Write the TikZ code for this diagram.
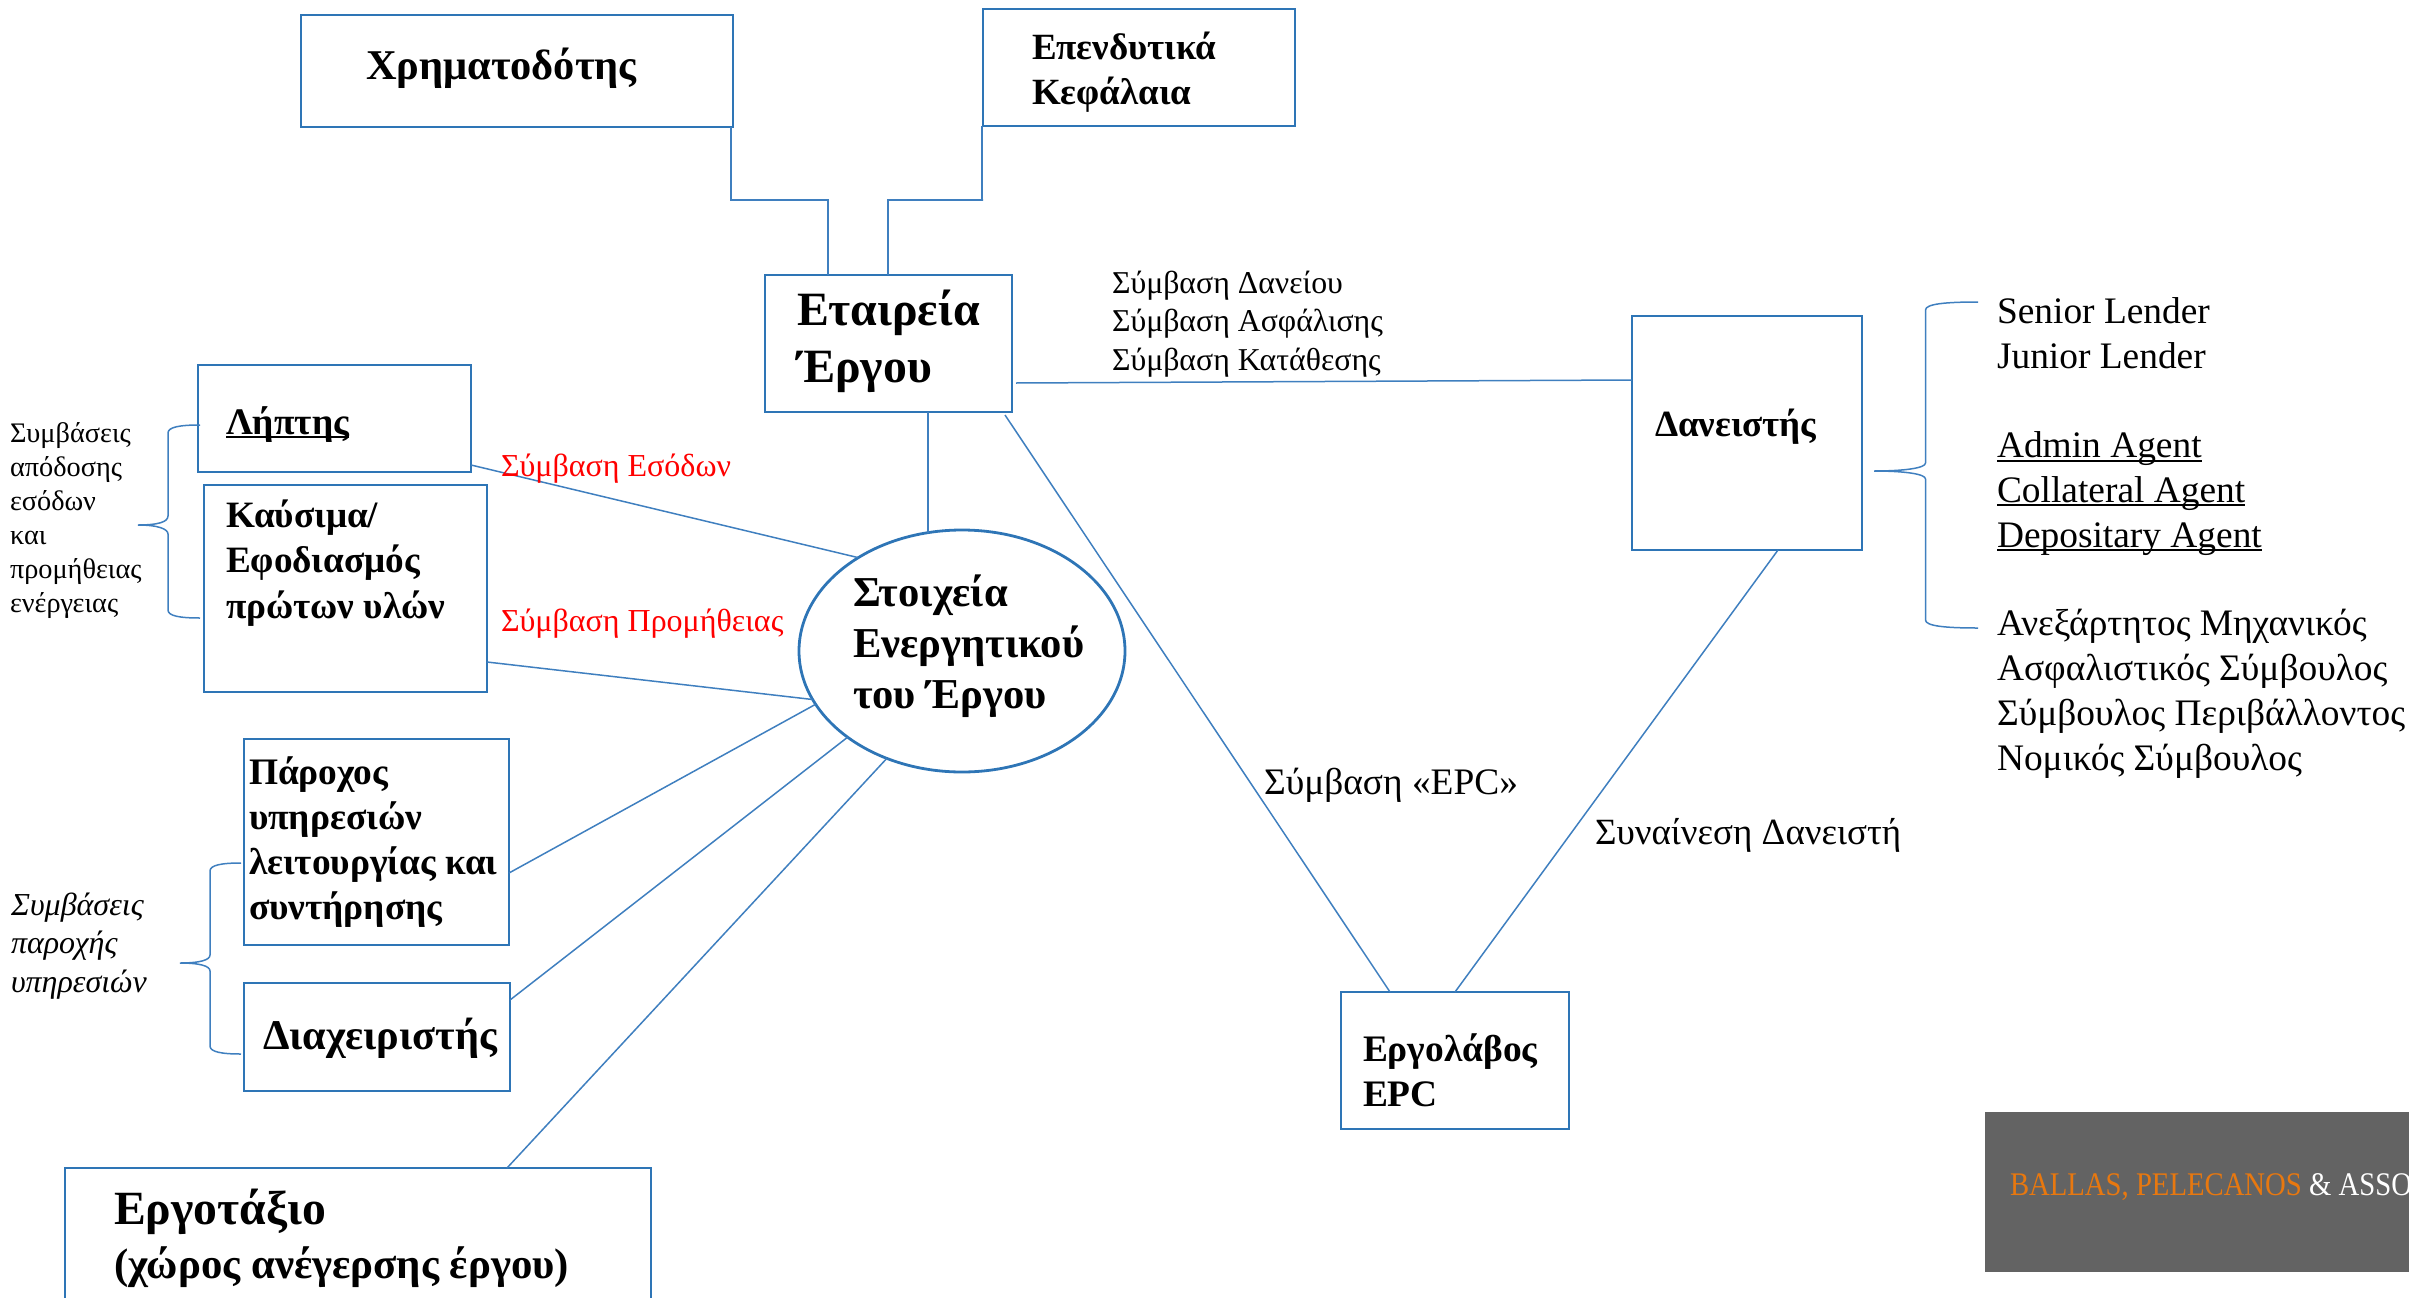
\documentclass[tikz,border=0pt]{standalone}
\usepackage{fontspec}
\setmainfont{Liberation Serif}
\newfontfamily\logofont[FakeStretch=0.87]{Liberation Serif}
\usetikzlibrary{calc,shapes.geometric}
\definecolor{boxblue}{HTML}{2E75B6}
\definecolor{linkblue}{HTML}{3F7FBF}
\definecolor{logoorange}{HTML}{E8780F}
\newcommand{\fsz}[2]{\fontsize{#1}{#2}\selectfont}
\newcommand{\ulx}[1]{\setbox0\hbox{#1}\rlap{\rule[-0.11em]{\wd0}{0.05em}}\box0}
\tikzset{
  boxnode/.style={draw=boxblue,line width=2.8pt,rectangle,inner sep=0pt,outer sep=0pt,fill=white},
  assetnode/.style={draw=boxblue,line width=2.8pt,ellipse,inner sep=0pt,outer sep=0pt},
  link/.style={draw=linkblue,line width=1.5pt},
  brace/.style={draw=linkblue,line width=1.5pt},
  lbl/.style={inner sep=0pt,outer sep=0pt,align=left,anchor=base west,text=black},
  redlbl/.style={lbl,text=red},
}
\begin{document}
\begin{tikzpicture}[x=1pt,y=-1pt]
\useasboundingbox (0,0) rectangle (2409,1298);
\begin{scope}
\clip (0,0) rectangle (2409,1298);
\node[boxnode,minimum width=432pt,minimum height=112pt] (fin) at (517,71) {};
\node[boxnode,minimum width=312pt,minimum height=117pt] (inv) at (1139,67.5) {};
\node[boxnode,minimum width=247pt,minimum height=137pt] (eta) at (888.5,343.5) {};
\node[boxnode,minimum width=273pt,minimum height=107pt] (lip) at (334.5,418.5) {};
\node[boxnode,minimum width=283pt,minimum height=207pt] (fuel) at (345.5,588.5) {};
\node[boxnode,minimum width=265pt,minimum height=206pt] (om) at (376.5,842) {};
\node[boxnode,minimum width=266pt,minimum height=108pt] (man) at (377,1037) {};
\node[boxnode,minimum width=586pt,minimum height=150pt] (site) at (358,1243) {};
\node[boxnode,minimum width=230pt,minimum height=234pt] (dan) at (1747,433) {};
\node[boxnode,minimum width=228pt,minimum height=137pt] (epc) at (1455,1060.5) {};
\node[assetnode,minimum width=326pt,minimum height=242pt] (asset) at (962,651) {};

\draw[link] ([xshift=-2pt]fin.south east) |- ($(fin.south east)+(0,73)$) -| ([xshift=-60.5pt]eta.north);
\draw[link] ([xshift=-157pt]inv.south) |- ($(inv.south west)+(0,74)$) -| ([xshift=-0.5pt]eta.north);
\draw[link] (eta.south -| asset.106.6) -- (asset.106.6);
\draw[link] ([xshift=4pt,yshift=-39.5pt]eta.east) -- ([yshift=53pt]dan.west);
\draw[link] ([xshift=-7pt,yshift=-3pt]eta.south east) -- ([xshift=-65pt]epc.north);
\draw[link] ([xshift=31pt]dan.south) -- (epc.north);
\draw[link] ([yshift=-46.5pt]lip.east) -- (asset.138.5);
\draw[link] ([yshift=-73.5pt]fuel.east) -- (asset.198.7);
\draw[link] ([yshift=-31pt]om.east) -- (asset.200.4);
\draw[link] ([yshift=37pt]man.east) -- (asset.217);
\draw[link] ([xshift=149pt]site.north) -- (asset.235.8);

% braces
\draw[brace] (200,425) .. controls (180,425) and (168,427) .. (168,433) -- (168,516) .. controls (168,522) and (158,525) .. (138,525) .. controls (158,525) and (168,529) .. (168,534) -- (168,610) .. controls (168,616) and (180,618) .. (200,618);
\draw[brace] (241,863) .. controls (222,863) and (210,865) .. (210,871) -- (210,955) .. controls (210,960) and (200,963) .. (180,963) .. controls (200,963) and (210,966) .. (210,971) -- (210,1046) .. controls (210,1052) and (222,1054) .. (241,1054);
\draw[brace] (1978,302) .. controls (1945,302) and (1925.5,304) .. (1925.5,310) -- (1925.5,463) .. controls (1925.5,468) and (1905,471) .. (1874,471) .. controls (1905,471) and (1925.5,474) .. (1925.5,479) -- (1925.5,620) .. controls (1925.5,626) and (1945,628) .. (1978,628);

% texts
\node[lbl,font=\bfseries\fsz{42.4}{50}] (tfin) at (366,79) {Χρηματοδότης};
\node[lbl,font=\bfseries\fsz{37}{45}] (tinv) at (1032,104) {Επενδυτικά\\Κεφάλαια};
\node[lbl,font=\bfseries\fsz{47.8}{57}] (teta) at (797,382) {Εταιρεία\\Έργου};
\node[lbl,font=\bfseries\fsz{37.5}{45}] (tlip) at (226,434) {\ulx{Λήπτης}};
\node[lbl,font=\bfseries\fsz{37.2}{45.5}] (tfuel) at (226,618) {Καύσιμα/\\Εφοδιασμός\\πρώτων υλών};
\node[lbl,font=\bfseries\fsz{42.6}{51}] (tasset) at (853,708) {Στοιχεία\\Ενεργητικού\\του Έργου};
\node[lbl,font=\bfseries\fsz{37.4}{45}] (tom) at (249,919) {Πάροχος\\υπηρεσιών\\λειτουργίας και\\συντήρησης};
\node[lbl,font=\bfseries\fsz{42.3}{50}] (tman) at (263,1049) {Διαχειριστής};
\node[lbl,font=\bfseries\fsz{47.7}{55}] (tsite) at (114,1224) {Εργοτάξιο};
\node[lbl,font=\bfseries\fsz{42.8}{50}] (tsite2) at (114,1278) {(χώρος ανέγερσης έργου)};
\node[lbl,font=\bfseries\fsz{37}{45}] (tdan) at (1655,436) {Δανειστής};
\node[lbl,font=\bfseries\fsz{37.4}{45}] (tepc) at (1363,1106) {Εργολάβος\\EPC};
\node[lbl,font=\fsz{28.3}{34}] (tleft) at (10,612) {Συμβάσεις\\απόδοσης\\εσόδων\\και\\προμήθειας\\ενέργειας};
\node[lbl,font=\itshape\fsz{32}{38.5}] (tleft2) at (11,992) {Συμβάσεις\\παροχής\\υπηρεσιών};
\node[redlbl,font=\fsz{32}{38}] (tred1) at (501,476) {Σύμβαση Εσόδων};
\node[redlbl,font=\fsz{32}{38}] (tred2) at (501,631) {Σύμβαση Προμήθειας};
\node[lbl,font=\fsz{31.8}{38.5}] (tcon) at (1112,370) {Σύμβαση Δανείου\\Σύμβαση Ασφάλισης\\Σύμβαση Κατάθεσης};
\node[lbl,font=\fsz{37.4}{45}] (tepcc) at (1264,794) {Σύμβαση «EPC»};
\node[lbl,font=\fsz{37}{45}] (tcons) at (1595,844) {Συναίνεση Δανειστή};
\node[lbl,font=\fsz{37.4}{44.8}] (tr1) at (1997,368) {Senior Lender\\Junior Lender};
\node[lbl,font=\fsz{37.4}{44.8}] (tr2) at (1997,547) {\ulx{Admin Agent}\\\ulx{Collateral Agent}\\\ulx{Depositary Agent}};
\node[lbl,font=\fsz{37.4}{44.8}] (tr3) at (1997,770) {Ανεξάρτητος Μηχανικός\\Ασφαλιστικός Σύμβουλος\\Σύμβουλος Περιβάλλοντος\\Νομικός Σύμβουλος};

% logo
\node[rectangle,fill=black!61,draw=none,inner sep=0pt,outer sep=0pt,minimum width=424pt,minimum height=160pt] (logo) at (2197,1192) {};
\node[lbl,font=\logofont\fsz{33}{38}] (tlogo) at (2010,1195) {\textcolor{logoorange}{BALLAS, PELECANOS} \textcolor{white}{\& ASSOC}};
\end{scope}
\end{tikzpicture}
\end{document}
